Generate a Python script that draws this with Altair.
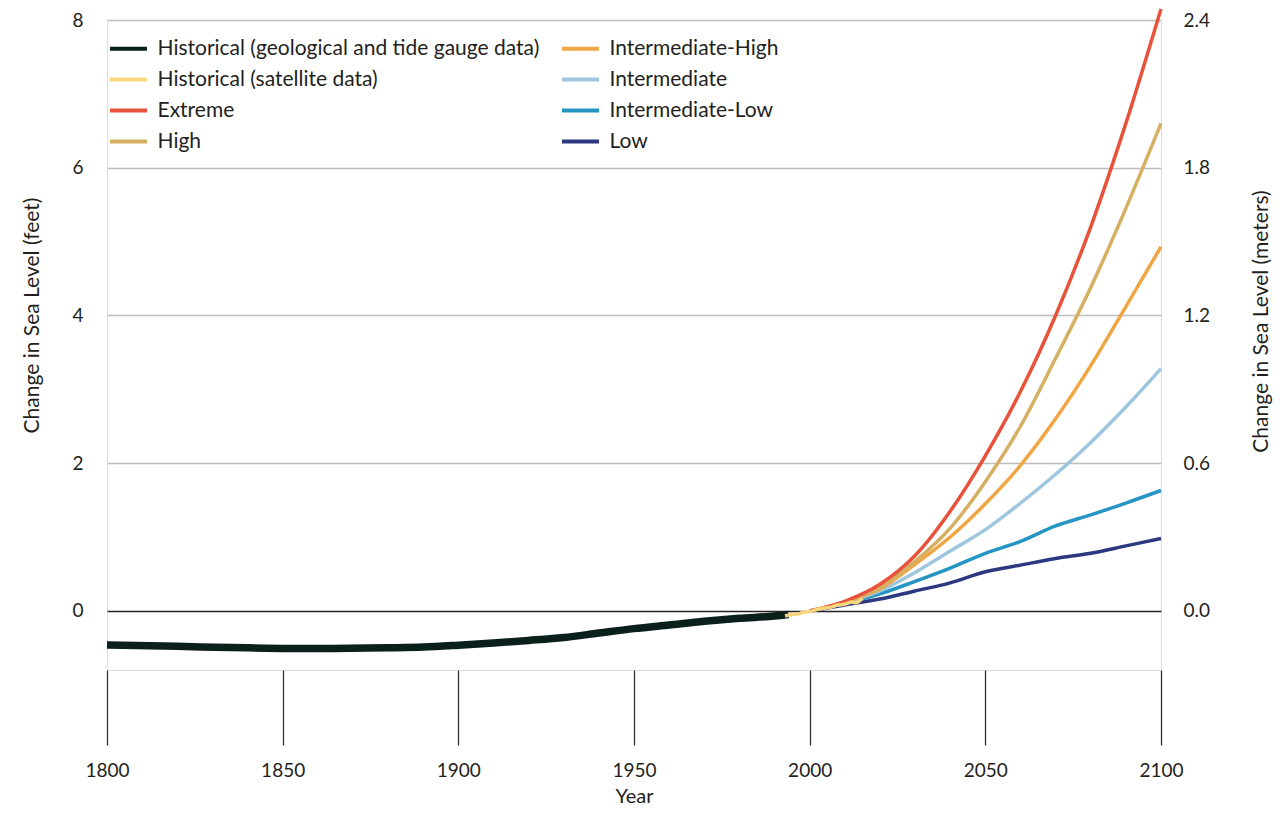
import altair as alt
import pandas as pd

# ---------------- data (feet) ----------------
hist_years = [1800, 1820, 1840, 1860, 1880, 1890, 1900, 1910, 1920, 1930,
              1940, 1950, 1960, 1970, 1980, 1990, 1994]
hist_vals = [-0.46, -0.48, -0.50, -0.51, -0.50, -0.49, -0.465, -0.435, -0.40, -0.36,
             -0.30, -0.24, -0.19, -0.14, -0.10, -0.07, -0.05]

sat_years = [1993, 1995, 1997, 1998, 2000, 2002, 2004, 2006, 2008, 2010, 2012, 2013, 2015]
sat_vals = [-0.07, -0.05, -0.04, -0.02, -0.01, 0.02, 0.04, 0.05, 0.08, 0.09, 0.12, 0.11, 0.17]

proj_years = [2000, 2010, 2020, 2030, 2040, 2050, 2060, 2070, 2080, 2090, 2100]
extreme = [0, 0.13, 0.36, 0.75, 1.35, 2.10, 2.97, 4.00, 5.20, 6.60, 8.15]
high = [0, 0.12, 0.32, 0.67, 1.12, 1.75, 2.50, 3.42, 4.38, 5.45, 6.60]
int_high = [0, 0.12, 0.30, 0.63, 1.00, 1.45, 1.97, 2.60, 3.32, 4.12, 4.93]
intermediate = [0, 0.11, 0.27, 0.52, 0.81, 1.10, 1.46, 1.85, 2.28, 2.76, 3.28]
int_low = [0, 0.10, 0.23, 0.40, 0.58, 0.78, 0.94, 1.15, 1.30, 1.46, 1.63]
low = [0, 0.08, 0.16, 0.27, 0.38, 0.53, 0.62, 0.71, 0.78, 0.88, 0.98]

H_GEO = "Historical (geological and tide gauge data)"
H_SAT = "Historical (satellite data)"

# legend order (column-wise fill of a 2-column legend)
legend_order = [H_GEO, H_SAT, "Extreme", "High",
                "Intermediate-High", "Intermediate", "Intermediate-Low", "Low"]
legend_colors = ["#0b1f1c", "#f8d77c", "#e8523a", "#d5b063",
                 "#f0a642", "#9fc6df", "#2596c4", "#2c3980"]

rows = []
for y, v in zip(hist_years, hist_vals):
    rows.append({"series": H_GEO, "year": y, "ft": v})
for y, v in zip(sat_years, sat_vals):
    rows.append({"series": H_SAT, "year": y, "ft": v})
for name, vals in [("Low", low), ("Intermediate-Low", int_low),
                   ("Intermediate", intermediate), ("Intermediate-High", int_high),
                   ("High", high), ("Extreme", extreme)]:
    for y, v in zip(proj_years, vals):
        rows.append({"series": name, "year": y, "ft": v})
df = pd.DataFrame(rows)

FONT = "Lato"
TXT = "#231f20"

x_scale = alt.Scale(domain=[1800, 2100], nice=False, zero=False)
x_axis = alt.Axis(values=[1800, 1850, 1900, 1950, 2000, 2050, 2100], format="d",
                  title="Year", grid=False, domain=False, tickSize=75,
                  tickColor="#333333", tickWidth=1.3, labelPadding=16,
                  labelFlush=False, labelOverlap=False,
                  labelFontSize=19, titleFontSize=20, titleFontWeight="normal",
                  titlePadding=6, labelColor=TXT, titleColor=TXT,
                  labelFont=FONT, titleFont=FONT)
x_enc = alt.X("year:Q", scale=x_scale, axis=x_axis)

y_scale = alt.Scale(domain=[-0.8, 8], nice=False, zero=False)
y_axis = alt.Axis(values=[0, 2, 4, 6, 8], format="d", title="Change in Sea Level (feet)",
                  grid=True, gridColor={"condition": {"test": "datum.value === 0", "value": "#222222"},
                                        "value": "#bdbdbd"},
                  gridWidth=1.4, domain=False, ticks=False, labelPadding=24,
                  labelFlush=False,
                  labelFontSize=19, titleFontSize=21, titleFontWeight="normal",
                  titleAngle=270, titleBaseline="middle", titleX=-75, titleY=295,
                  labelColor=TXT, titleColor=TXT, labelFont=FONT, titleFont=FONT)

color_enc = alt.Color("series:N",
                      scale=alt.Scale(domain=legend_order, range=legend_colors),
                      legend=alt.Legend(title=None, orient="none", legendX=10, legendY=17,
                                        columns=2, symbolType="M-2,0H2", symbolSize=342,
                                        symbolStrokeWidth=4, labelFontSize=21,
                                        labelFont=FONT, labelColor=TXT, labelOffset=17.5,
                                        rowPadding=9, columnPadding=14, padding=0,
                                        labelLimit=600))

draw = [("Low", 3.5), ("Intermediate-Low", 3.5), ("Intermediate", 3.5),
        ("Intermediate-High", 3.5), ("High", 3.5), ("Extreme", 3.5),
        (H_GEO, 7.5), (H_SAT, 3.5)]

layers = []
for name, w in draw:
    layers.append(
        alt.Chart(df).transform_filter(alt.datum.series == name)
        .mark_line(strokeWidth=w, strokeCap="butt", interpolate="monotone")
        .encode(x=x_enc,
                y=alt.Y("ft:Q", scale=y_scale, axis=y_axis),
                color=color_enc)
    )
left = alt.layer(*layers)

# right axis in meters (invisible carrier layer)
right = (alt.Chart(df).transform_filter(alt.datum.series == "Extreme")
         .transform_calculate(m="datum.ft * 0.3")
         .mark_line(opacity=0)
         .encode(x=x_enc,
                 y=alt.Y("m:Q", scale=alt.Scale(domain=[-0.24, 2.4], nice=False, zero=False),
                         axis=alt.Axis(orient="right", values=[0, 0.6, 1.2, 1.8, 2.4], format=".1f",
                                       title="Change in Sea Level (meters)", grid=False,
                                       domain=False, ticks=False, labelPadding=22,
                                       labelFlush=False,
                                       labelFontSize=19, titleFontSize=21,
                                       titleFontWeight="normal", titleAngle=270,
                                       titleBaseline="middle", titleX=100, titleY=301,
                                       labelColor=TXT, titleColor=TXT,
                                       labelFont=FONT, titleFont=FONT))))

chart = (alt.layer(left, right)
         .resolve_scale(y="independent")
         .properties(width=1054, height=650,
                     autosize=alt.AutoSizeParams(type="none"),
                     padding={"left": 99, "top": 12, "right": 117, "bottom": 138})
         .configure_view(strokeWidth=0, stroke="transparent")
         .configure(background="white"))

chart.save("out.html", embed_options={"renderer": "svg", "actions": False})
